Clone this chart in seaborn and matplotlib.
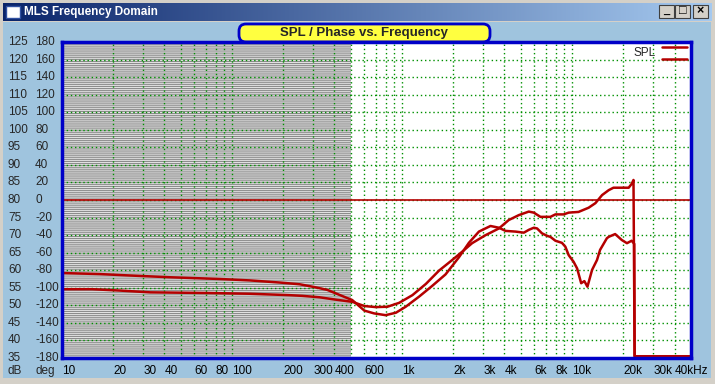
import numpy as np
import pandas as pd
import matplotlib.pyplot as plt
import seaborn as sns
from matplotlib.patches import Rectangle, FancyBboxPatch
from matplotlib.colors import LinearSegmentedColormap
from matplotlib.transforms import blended_transform_factory

# curva 1: cae hasta ~47 dB cerca de 800 Hz, pico en 3k y valle en 12k
freq_a = [10, 16.7, 25, 43, 85, 127, 190, 250, 305, 363, 427, 509, 600, 685, 800,
          920, 1050, 1260, 1500, 1800, 2160, 2470, 2830, 3310, 3710, 4060, 4650,
          5200, 5560, 5950, 6220, 6650, 7120, 7450, 7970, 8710, 9120, 9540, 10200,
          10700, 11300, 11800, 12300, 13100, 14000, 14600, 16000, 16400, 17900,
          19600, 21000, 22400, 23200, 23300, 50000]
spl_a = [59.2, 58.9, 58.5, 58.0, 57.5, 57.1, 56.5, 56.0, 55.2, 54.4, 53.0, 51.5,
         48.5, 47.7, 47.2, 47.9, 49.6, 52.5, 55.5, 58.8, 63.7, 67.8, 71.0, 72.6,
         72.1, 71.2, 71.0, 70.7, 71.5, 72.1, 71.9, 70.5, 69.8, 69.5, 68.4, 67.8,
         66.7, 64.3, 62.4, 60.5, 56.3, 56.9, 55.3, 60.1, 62.9, 65.8, 69.1, 69.5,
         70.3, 68.6, 67.7, 68.4, 67.5, 35.5, 35.5]

# curva 2: sube suave hasta ~85 dB en 20k
freq_b = [10, 15, 22, 33, 74, 127, 217, 259, 326, 410, 509, 600, 700, 820, 960,
          1150, 1380, 1650, 1970, 2260, 2580, 3100, 3710, 4240, 4860, 5560, 5950,
          6510, 7450, 7970, 8920, 9540, 10900, 12500, 13700, 15000, 16400, 17500,
          21500, 22400, 22950, 23300, 50000]
spl_b = [54.6, 54.6, 54.2, 53.7, 53.5, 53.3, 52.9, 52.7, 52.3, 51.6, 51.0, 49.8,
         49.5, 49.6, 50.7, 52.9, 56.1, 59.9, 62.9, 65.3, 67.7, 70.0, 71.9, 74.3,
         75.7, 76.7, 76.4, 75.2, 75.2, 75.9, 75.9, 76.4, 76.6, 77.8, 79.1, 81.4,
         82.8, 83.5, 83.5, 84.6, 85.7, 35.5, 35.5]

db_ticks = list(range(125, 30, -5))
deg_ticks = list(range(180, -181, -20))
freq_ticks = [10, 20, 30, 40, 60, 80, 100, 200, 300, 400, 600, 1000, 2000, 3000,
              4000, 6000, 8000, 10000, 20000, 30000, 40000]
freq_labels = ['10', '20', '30', '40', '60', '80', '100', '200', '300', '400', '600',
               '1k', '2k', '3k', '4k', '6k', '8k', '10k', '20k', '30k', '40kHz']
grid_freqs = [d * m for d in (10, 100, 1000) for m in range(1, 10)] + [10000, 20000, 30000, 40000]

sns.set_theme(style='white')
plt.rcParams['font.family'] = ['Liberation Sans', 'DejaVu Sans']
plt.rcParams['hatch.color'] = '#8c8c8c'
plt.rcParams['hatch.linewidth'] = 0.8

rojo = '#b40000'
verde = '#009000'
azul = '#0000c8'

fig = plt.figure(figsize=(7.15, 3.84), dpi=100)
fig.patch.set_facecolor('#d4d0c8')

# ventana estilo windows
bg = fig.add_axes([0, 0, 1, 1], zorder=-5)
bg.set_xlim(0, 715)
bg.set_ylim(384, 0)
bg.axis('off')
bg.add_patch(Rectangle((3, 22), 708, 356, facecolor='#9fc4de', edgecolor='none'))
grad = LinearSegmentedColormap.from_list('tb', ['#0a246a', '#a6caf0'])
bg.imshow(np.linspace(0, 1, 256).reshape(1, -1), cmap=grad, aspect='auto',
          extent=[3, 712, 21, 3])
bg.add_patch(Rectangle((6, 6), 14, 12, facecolor='white', edgecolor='#3050a0', lw=1))
bg.text(24, 12.5, 'MLS Frequency Domain', color='white', fontsize=8.5,
        fontweight='bold', va='center', ha='left')
for x0, sym in [(659, '_'), (675, '\u25a1'), (693, '\u00d7')]:
    bg.add_patch(Rectangle((x0, 5), 15, 13, facecolor='#d4d0c8', edgecolor='#404040', lw=0.8))
    bg.text(x0 + 7.5, 11.5, sym, fontsize=9 if sym != '_' else 8, ha='center',
            va='center', color='black', fontweight='bold')

# area del grafico
ax = fig.add_axes([62 / 715, 1 - 358 / 384, 629 / 715, 316 / 384])
ax.set_facecolor('white')

ax.axvspan(10, 500, facecolor='#e4e4e4', edgecolor='#8c8c8c', hatch='--------', lw=0, zorder=0.5)
for f in grid_freqs:
    ax.axvline(f, color=verde, ls=(0, (1, 2)), lw=1, zorder=1)
for d in db_ticks:
    ax.axhline(d, color=verde, ls=(0, (1, 2)), lw=1, zorder=1)
ax.axhline(80, color=rojo, lw=1.2, zorder=2)

sns.lineplot(x=freq_a, y=spl_a, color=rojo, lw=1.8, ax=ax, estimator=None, zorder=3)
sns.lineplot(x=freq_b, y=spl_b, color=rojo, lw=1.8, ax=ax, estimator=None, zorder=3)
ax.set_xscale('log')
ax.set_xlim(10, 50000)
ax.set_ylim(35, 125)

for s in ax.spines.values():
    s.set_color(azul)
    s.set_linewidth(2.5)
    s.set_zorder(6)

ax.set_xticks(freq_ticks, freq_labels, ha='left', fontsize=8.5)
ax.set_xticks([], minor=True)
ax.set_yticks(db_ticks, [''] * len(db_ticks))
ax.tick_params(axis='both', length=0, pad=5, colors='black')
ax.set_xlabel('')
ax.set_ylabel('')

# etiquetas dB / deg
tr = blended_transform_factory(fig.transFigure, ax.transData)
for d, g in zip(db_ticks, deg_ticks):
    ax.text(8 / 715, d, str(d), transform=tr, fontsize=8.5, va='center', ha='left')
    ax.text(35 / 715, d, str(g), transform=tr, fontsize=8.5, va='center', ha='left')
fig.text(8 / 715, 1 - 371 / 384, 'dB', fontsize=8.5, va='center', ha='left')
fig.text(35 / 715, 1 - 371 / 384, 'deg', fontsize=8.5, va='center', ha='left')

# leyenda
ax.text(0.943, 0.965, 'SPL', transform=ax.transAxes, ha='right', va='center', fontsize=8.5)
ax.plot([0.954, 0.994], [0.984, 0.984], transform=ax.transAxes, color=rojo, lw=1.8)
ax.plot([0.954, 0.994], [0.946, 0.946], transform=ax.transAxes, color=rojo, lw=1.8)

# titulo en caja amarilla
caja = FancyBboxPatch((240, 25), 249, 16, boxstyle='round,pad=1,rounding_size=7',
                      facecolor='#ffff40', edgecolor=azul, lw=2, zorder=10)
bg.add_patch(caja)
fig.text(364 / 715, 1 - 33 / 384, 'SPL / Phase vs. Frequency', fontsize=9.5,
         fontweight='bold', ha='center', va='center', zorder=11)

fig.savefig('out.png', dpi=100, facecolor=fig.get_facecolor())
